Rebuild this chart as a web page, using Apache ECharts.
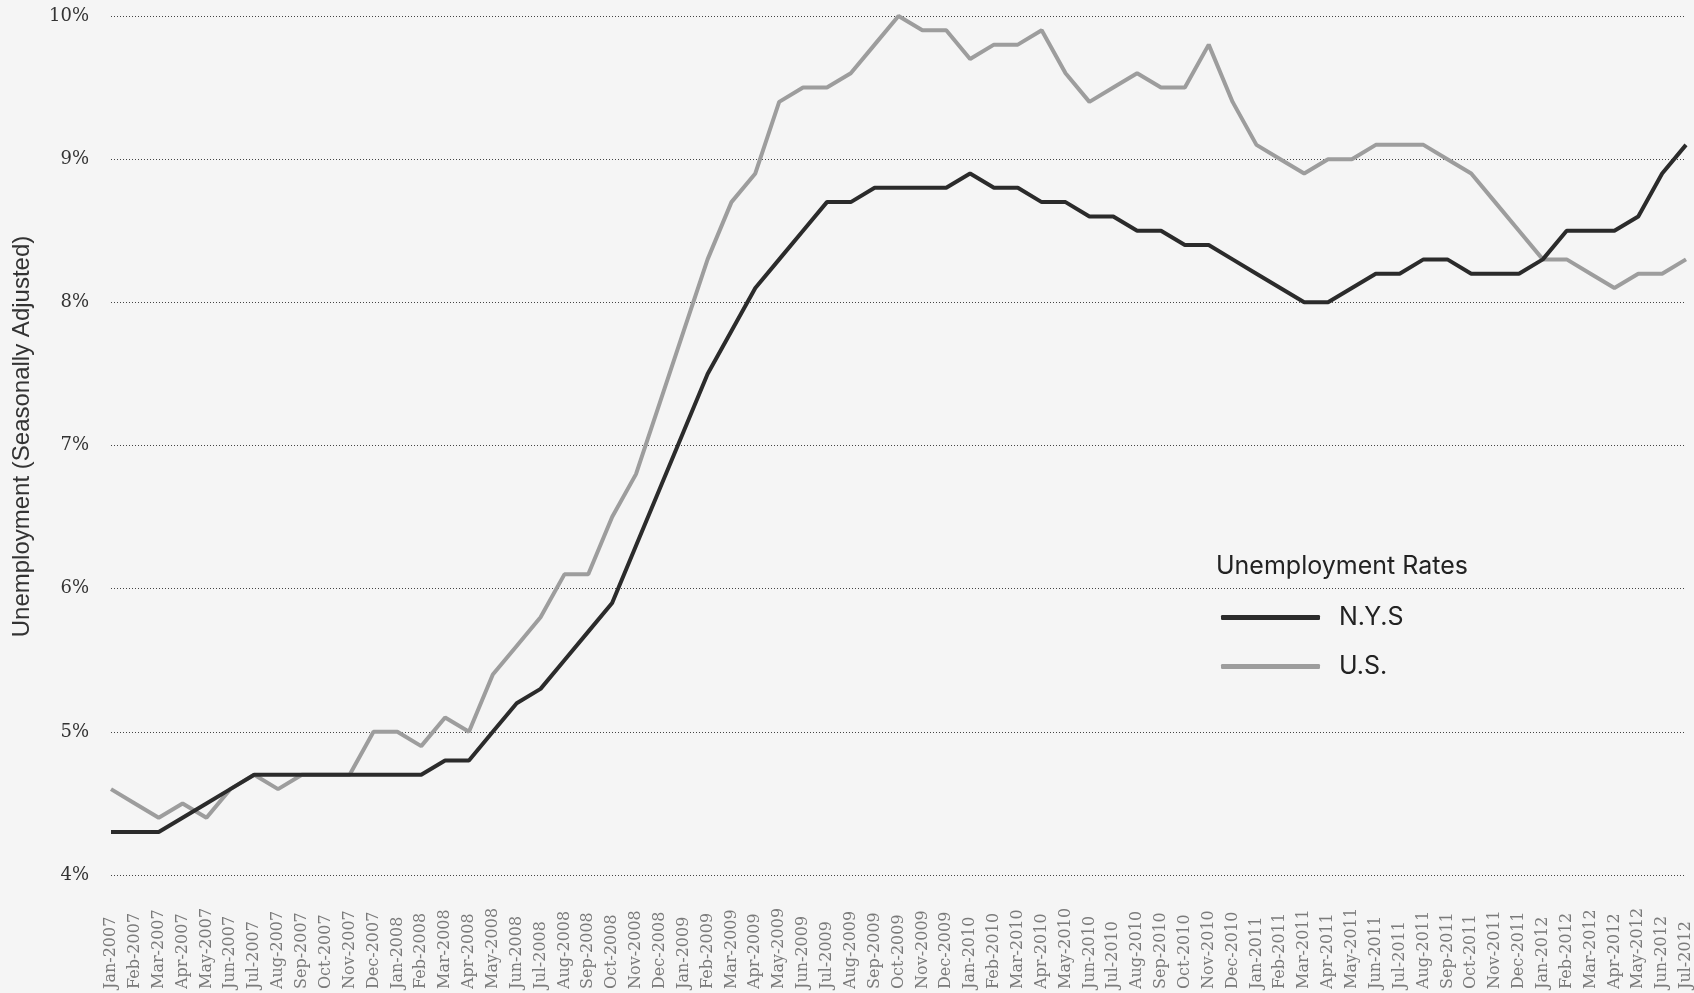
<!DOCTYPE html>
<html>
<head>
<meta charset="utf-8">
<script src="https://cdn.jsdelivr.net/npm/echarts@6/dist/echarts.min.js"></script>
<style>
html, body { margin: 0; padding: 0; background: #f5f5f5; }
#chart { width: 1694px; height: 993px; }
</style>
</head>
<body>
<div id="chart"></div>
<script>
var chart = echarts.init(document.getElementById("chart"));

// months Jan-2007 .. Jul-2012
var months = [
    'Jan-2007','Feb-2007','Mar-2007','Apr-2007','May-2007','Jun-2007','Jul-2007','Aug-2007','Sep-2007','Oct-2007','Nov-2007','Dec-2007',
    'Jan-2008','Feb-2008','Mar-2008','Apr-2008','May-2008','Jun-2008','Jul-2008','Aug-2008','Sep-2008','Oct-2008','Nov-2008','Dec-2008',
    'Jan-2009','Feb-2009','Mar-2009','Apr-2009','May-2009','Jun-2009','Jul-2009','Aug-2009','Sep-2009','Oct-2009','Nov-2009','Dec-2009',
    'Jan-2010','Feb-2010','Mar-2010','Apr-2010','May-2010','Jun-2010','Jul-2010','Aug-2010','Sep-2010','Oct-2010','Nov-2010','Dec-2010',
    'Jan-2011','Feb-2011','Mar-2011','Apr-2011','May-2011','Jun-2011','Jul-2011','Aug-2011','Sep-2011','Oct-2011','Nov-2011','Dec-2011',
    'Jan-2012','Feb-2012','Mar-2012','Apr-2012','May-2012','Jun-2012','Jul-2012'
];

var nys = [
    4.3,4.3,4.3,4.4,4.5,4.6,4.7,4.7,4.7,4.7,4.7,4.7,
    4.7,4.7,4.8,4.8,5.0,5.2,5.3,5.5,5.7,5.9,6.3,6.7,
    7.1,7.5,7.8,8.1,8.3,8.5,8.7,8.7,8.8,8.8,8.8,8.8,
    8.9,8.8,8.8,8.7,8.7,8.6,8.6,8.5,8.5,8.4,8.4,8.3,
    8.2,8.1,8.0,8.0,8.1,8.2,8.2,8.3,8.3,8.2,8.2,8.2,
    8.3,8.5,8.5,8.5,8.6,8.9,9.1
];

var us = [
    4.6,4.5,4.4,4.5,4.4,4.6,4.7,4.6,4.7,4.7,4.7,5.0,
    5.0,4.9,5.1,5.0,5.4,5.6,5.8,6.1,6.1,6.5,6.8,7.3,
    7.8,8.3,8.7,8.9,9.4,9.5,9.5,9.6,9.8,10.0,9.9,9.9,
    9.7,9.8,9.8,9.9,9.6,9.4,9.5,9.6,9.5,9.5,9.8,9.4,
    9.1,9.0,8.9,9.0,9.0,9.1,9.1,9.1,9.0,8.9,8.7,8.5,
    8.3,8.3,8.2,8.1,8.2,8.2,8.3
];

var yMin = 4, yMax = 10, yStep = 1;

chart.setOption({
    backgroundColor: '#f5f5f5',
    animation: false,
    title: {
        text: 'Unemployment Rates',
        left: 1216,
        top: 554,
        padding: 0,
        textStyle: {
            fontFamily: 'Inter',
            fontSize: 25,
            fontWeight: 'normal',
            color: '#222'
        }
    },
    legend: {
        orient: 'vertical',
        left: 1221,
        top: 605,
        icon: 'roundRect',
        itemWidth: 99,
        itemHeight: 5,
        itemGap: 24,
        padding: 0,
        data: ['N.Y.S', 'U.S.'],
        textStyle: {
            fontFamily: 'Inter',
            fontSize: 25,
            color: '#222',
            padding: [0, 0, 0, 14]
        }
    },
    grid: {
        left: 111,
        right: 8,
        top: 16,
        bottom: 118
    },
    xAxis: {
        type: 'category',
        data: months,
        boundaryGap: false,
        axisLine: { show: false },
        axisTick: { show: false },
        axisLabel: {
            interval: 0,
            rotate: 90,
            align: 'left',
            margin: 114,
            fontFamily: 'DejaVu Serif',
            fontSize: 16,
            color: '#7a7a7a'
        }
    },
    yAxis: {
        type: 'value',
        min: yMin,
        max: yMax,
        interval: yStep,
        name: 'Unemployment (Seasonally Adjusted)',
        nameLocation: 'middle',
        nameGap: 77,
        nameTextStyle: {
            fontFamily: 'Liberation Sans',
            fontSize: 24,
            color: '#333',
            padding: [0, 0, 0, 18]
        },
        axisLine: { show: false },
        axisTick: { show: false },
        axisLabel: {
            margin: 22,
            fontFamily: 'DejaVu Serif',
            fontSize: 18,
            color: '#333',
            formatter: '{value}%'
        },
        splitLine: {
            show: true,
            lineStyle: { color: '#444', width: 1, type: [1, 2] }
        }
    },
    series: [{
        name: 'N.Y.S',
        type: 'line',
        data: nys,
        symbol: 'none',
        z: 3,
        lineStyle: { color: '#2b2b2b', width: 4 },
        itemStyle: { color: '#2b2b2b' }
    }, {
        name: 'U.S.',
        type: 'line',
        data: us,
        symbol: 'none',
        z: 2,
        lineStyle: { color: '#9d9d9d', width: 4 },
        itemStyle: { color: '#9d9d9d' }
    }]
});
</script>
</body>
</html>
